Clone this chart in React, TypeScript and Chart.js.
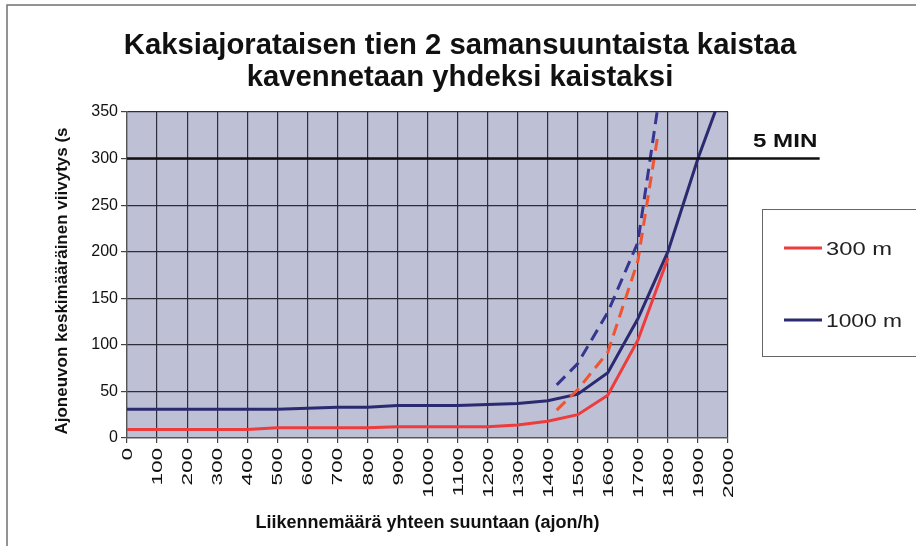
import React, { useEffect, useRef } from "react";
import { Chart, registerables } from "chart.js";

Chart.register(...registerables);

// ---------- data ----------
const titleLines = [
  "Kaksiajorataisen tien 2 samansuuntaista kaistaa",
  "kavennetaan yhdeksi kaistaksi",
];
const xAxisTitle = "Liikennemäärä yhteen suuntaan (ajon/h)";
const yAxisTitle = "Ajoneuvon keskimääräinen viivytys (s";
const seriesNames = ["300 m", "1000 m"];
const limitLabel = "5 MIN";

const xTickValues = [0, 100, 200, 300, 400, 500, 600, 700, 800, 900, 1000, 1100, 1200, 1300, 1400, 1500, 1600, 1700, 1800, 1900, 2000];
const xTickLabels = ["0", "100", "200", "300", "400", "500", "600", "700", "800", "900", "1000", "1100", "1200", "1300", "1400", "1500", "1600", "1700", "1800", "1900", "2000"];
const yTickValues = [0, 50, 100, 150, 200, 250, 300, 350];
const yTickLabels = ["0", "50", "100", "150", "200", "250", "300", "350"];

// solid 300 m
const flow300 = [0, 100, 200, 300, 400, 500, 600, 700, 800, 900, 1000, 1100, 1200, 1300, 1400, 1500, 1600, 1700, 1800];
const delay300 = [9, 9, 9, 9, 9, 11, 11, 11, 11, 12, 12, 12, 12, 14, 18, 25, 46, 105, 193];
// solid 1000 m
const flow1000 = [0, 100, 200, 300, 400, 500, 600, 700, 800, 900, 1000, 1100, 1200, 1300, 1400, 1500, 1600, 1700, 1800, 1900, 2000];
const delay1000 = [31, 31, 31, 31, 31, 31, 32, 33, 33, 35, 35, 35, 36, 37, 40, 47, 70, 128, 200, 300, 388];
// dashed 300 m
const flow300Dash = [1430, 1500, 1600, 1700, 1765];
const delay300Dash = [30, 52, 92, 190, 322];
// dashed 1000 m
const flow1000Dash = [1430, 1500, 1600, 1700, 1765];
const delay1000Dash = [57, 80, 135, 210, 352];
// 5 min limit line
const limitFlow = [0, 2305];
const limitDelay = [300, 300];

const RED = "#ee3b3b";
const RED_DASH = "#ee5533";
const BLUE = "#2b2a70";
const BLUE_DASH = "#36368e";
const PLOT_BG = "#bec0d6";
const GRID = "#2e2e38";

const pts = (xs: number[], ys: number[]) => xs.map((x, i) => ({ x, y: ys[i] }));

function drawText(
  ctx: CanvasRenderingContext2D,
  text: string,
  x: number,
  y: number,
  font: string,
  opts: { align?: CanvasTextAlign; baseline?: CanvasTextBaseline; sx?: number; rot?: number; color?: string } = {}
) {
  ctx.save();
  ctx.translate(x, y);
  if (opts.rot) ctx.rotate(opts.rot);
  ctx.scale(opts.sx ?? 1, 1);
  ctx.font = font;
  ctx.fillStyle = opts.color ?? "#111";
  ctx.textAlign = opts.align ?? "left";
  ctx.textBaseline = opts.baseline ?? "alphabetic";
  ctx.fillText(text, 0, 0);
  ctx.restore();
}

const decorPlugin = {
  id: "decor",
  beforeDraw(chart: any) {
    const { ctx, chartArea: a } = chart;
    ctx.save();
    ctx.fillStyle = "#ffffff";
    ctx.fillRect(0, 0, chart.width, chart.height);
    ctx.fillStyle = PLOT_BG;
    ctx.fillRect(a.left, a.top, a.right - a.left, a.bottom - a.top);
    ctx.restore();
  },
  afterDraw(chart: any) {
    const { ctx, chartArea: a } = chart;
    const xs = chart.scales.x;
    const ys = chart.scales.y;
    const F = "'Liberation Sans', Arial, sans-serif";

    // outer frame (top + left)
    ctx.save();
    ctx.strokeStyle = "#707070";
    ctx.lineWidth = 1.5;
    ctx.beginPath();
    ctx.moveTo(7, chart.height);
    ctx.lineTo(7, 5);
    ctx.lineTo(chart.width, 5);
    ctx.stroke();
    ctx.restore();

    // title
    drawText(ctx, titleLines[0], 460, 54, `bold 29px ${F}`, { align: "center", sx: 1.01 });
    drawText(ctx, titleLines[1], 460, 86, `bold 29px ${F}`, { align: "center", sx: 1.01 });

    // y-axis title
    drawText(ctx, yAxisTitle, 62, (a.top + a.bottom) / 2 + 6, `bold 17px ${F}`, {
      align: "center",
      baseline: "middle",
      rot: -Math.PI / 2,
    });

    // x-axis title
    drawText(ctx, xAxisTitle, (a.left + a.right) / 2, 528, `bold 18px ${F}`, { align: "center" });

    // x tick labels (rotated, reading upwards)
    xTickValues.forEach((v, i) => {
      const px = xs.getPixelForValue(v);
      drawText(ctx, xTickLabels[i], px + 1, a.bottom + 10, `15px ${F}`, {
        align: "right",
        baseline: "middle",
        rot: -Math.PI / 2,
        sx: 1.5,
      });
    });

    // 5 MIN label
    drawText(ctx, limitLabel, xs.getPixelForValue(2000) + 25, ys.getPixelForValue(300) - 12, `bold 19px ${F}`, {
      sx: 1.27,
    });

    // legend
    ctx.save();
    ctx.strokeStyle = "#666";
    ctx.lineWidth = 1;
    ctx.strokeRect(762.5, 209.5, 200, 147);
    ctx.lineWidth = 3;
    ctx.strokeStyle = RED;
    ctx.beginPath();
    ctx.moveTo(784, 248);
    ctx.lineTo(822, 248);
    ctx.stroke();
    ctx.strokeStyle = BLUE;
    ctx.beginPath();
    ctx.moveTo(784, 320);
    ctx.lineTo(822, 320);
    ctx.stroke();
    ctx.restore();
    drawText(ctx, seriesNames[0], 826, 255, `19px ${F}`, { sx: 1.25, color: "#222" });
    drawText(ctx, seriesNames[1], 826, 327, `19px ${F}`, { sx: 1.2, color: "#222" });
  },
};

export default function App() {
  const ref = useRef<HTMLCanvasElement | null>(null);

  useEffect(() => {
    if (!ref.current) return;
    const F = "'Liberation Sans', Arial, sans-serif";
    const chart = new Chart(ref.current, {
      type: "line",
      data: {
        datasets: [
          {
            label: "5 MIN",
            data: pts(limitFlow, limitDelay),
            borderColor: "#111",
            borderWidth: 2.5,
            pointRadius: 0,
            clip: false as any,
          },
          {
            label: seriesNames[0] + " dashed",
            data: pts(flow300Dash, delay300Dash),
            borderColor: RED_DASH,
            borderWidth: 3,
            borderDash: [12, 7],
            pointRadius: 0,
          },
          {
            label: seriesNames[1] + " dashed",
            data: pts(flow1000Dash, delay1000Dash),
            borderColor: BLUE_DASH,
            borderWidth: 3,
            borderDash: [12, 7],
            pointRadius: 0,
          },
          {
            label: seriesNames[0],
            data: pts(flow300, delay300),
            borderColor: RED,
            borderWidth: 3,
            pointRadius: 0,
          },
          {
            label: seriesNames[1],
            data: pts(flow1000, delay1000),
            borderColor: BLUE,
            borderWidth: 3,
            pointRadius: 0,
          },
        ],
      },
      options: {
        animation: false,
        responsive: false,
        maintainAspectRatio: false,
        layout: { padding: { left: 0, top: 112, right: 188, bottom: 0 } },
        plugins: {
          legend: { display: false },
          title: { display: false },
          tooltip: { enabled: false },
        },
        scales: {
          x: {
            type: "linear",
            min: xTickValues[0],
            max: xTickValues[xTickValues.length - 1],
            afterBuildTicks: (s: any) => {
              s.ticks = xTickValues.map((v) => ({ value: v }));
            },
            ticks: { display: false },
            grid: { color: GRID, lineWidth: 1.2, tickLength: 5, tickColor: "#444" },
            border: { color: "#555", width: 1.2 },
            afterFit: (s: any) => {
              s.height = 108;
            },
          },
          y: {
            type: "linear",
            min: yTickValues[0],
            max: yTickValues[yTickValues.length - 1],
            afterBuildTicks: (s: any) => {
              s.ticks = yTickValues.map((v) => ({ value: v }));
            },
            ticks: {
              color: "#111",
              font: { family: F, size: 16 },
              padding: 3,
              callback: (v: any) => yTickLabels[yTickValues.indexOf(Number(v))] ?? String(v),
            },
            grid: { color: GRID, lineWidth: 1.2, tickLength: 6, tickColor: "#444" },
            border: { color: "#555", width: 1.2 },
            afterFit: (s: any) => {
              s.width = 127;
            },
          },
        },
      },
      plugins: [decorPlugin],
    });
    return () => chart.destroy();
  }, []);

  return (
    <div style={{ position: "absolute", left: 0, top: 0, width: 916, height: 546 }}>
      <canvas ref={ref} width={916} height={546} style={{ width: 916, height: 546, display: "block" }} />
    </div>
  );
}
